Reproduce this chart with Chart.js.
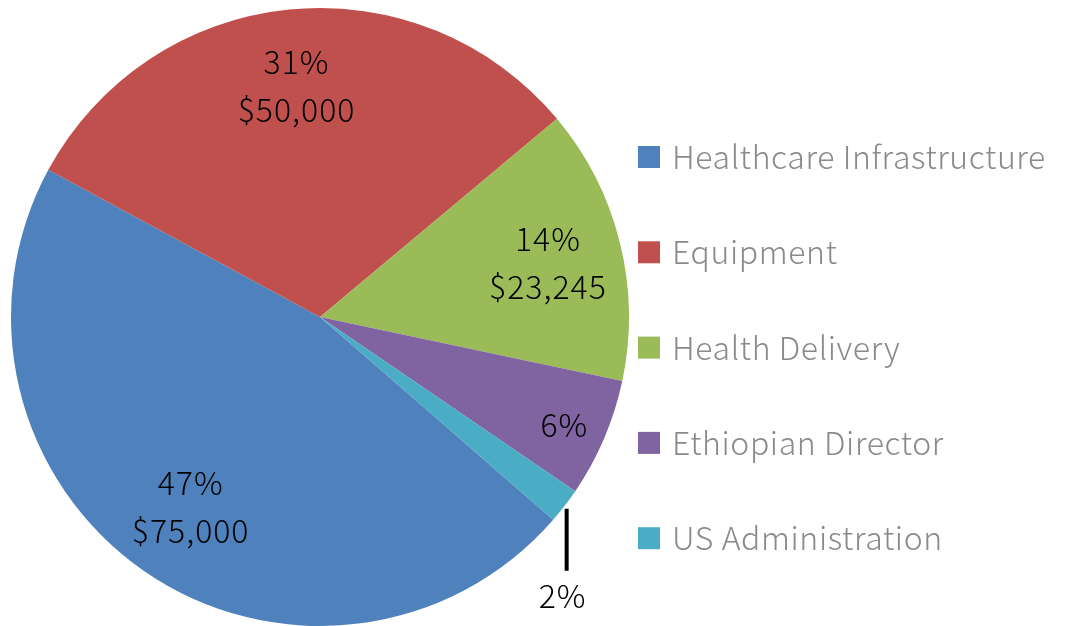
<!DOCTYPE html>
<html>
<head>
<meta charset="utf-8">
<script src="https://cdn.jsdelivr.net/npm/chart.js@4.4.1/dist/chart.umd.min.js"></script>
<style>
  html, body { margin: 0; padding: 0; background: #fff; }
  #wrap { width: 1065px; height: 626px; }
</style>
</head>
<body>
<div id="wrap"><canvas id="budgetChart"></canvas></div>
<script>
const categories = [
    'Healthcare Infrastructure',
    'Equipment',
    'Health Delivery',
    'Ethiopian Director',
    'US Administration',
];
const amounts = [75000, 50000, 23245, 10000, 3000];
const showAmount = [true, true, true, false, false];
const colors = ['#4F81BD', '#C0504D', '#9BBB59', '#8064A2', '#4BACC6'];

// how far out (fraction of radius) each label sits; negative = outside with leader line
const labelRadius = [0.735, 0.76, 0.76, 0.86, -1];

const fontFamily = '"Noto Sans CJK JP", "Segoe UI", sans-serif';
const textFont = '300 32px ' + fontFamily;

const sliceLabels = {
    id: 'sliceLabels',
    afterDatasetsDraw(chart) {
        const ctx = chart.ctx;
        const meta = chart.getDatasetMeta(0);
        const total = amounts.reduce((a, b) => a + b, 0);
        ctx.save();
        ctx.fillStyle = '#000';
        ctx.font = textFont;
        ctx.letterSpacing = '1px';
        ctx.textAlign = 'center';
        ctx.textBaseline = 'middle';
        meta.data.forEach((arc, i) => {
            const p = arc.getProps(['x', 'y', 'startAngle', 'endAngle', 'outerRadius'], true);
            const mid = (p.startAngle + p.endAngle) / 2;
            const pct = Math.round(amounts[i] / total * 100) + '%';
            const f = labelRadius[i];
            if (f < 0) {
                // outside label with a short vertical leader line
                const ex = p.x + Math.cos(mid) * p.outerRadius;
                const ey = p.y + Math.sin(mid) * p.outerRadius;
                ctx.strokeStyle = '#000';
                ctx.lineWidth = 4;
                ctx.beginPath();
                ctx.moveTo(ex + 2, ey + 3);
                ctx.lineTo(ex + 2, ey + 65);
                ctx.stroke();
                ctx.fillText(pct, ex - 2, ey + 90);
                return;
            }
            const lx = p.x + Math.cos(mid) * p.outerRadius * f;
            const ly = p.y + Math.sin(mid) * p.outerRadius * f + 3;
            if (showAmount[i]) {
                ctx.fillText(pct, lx, ly - 24);
                ctx.fillText('$' + amounts[i].toLocaleString('en-US'), lx, ly + 24);
            } else {
                ctx.fillText(pct, lx, ly);
            }
        });
        ctx.restore();
    }
};

// legend drawn by hand so the spacing matches the original
const sideLegend = {
    id: 'sideLegend',
    afterDraw(chart) {
        const ctx = chart.ctx;
        const ds = chart.data.datasets[0];
        const x = chart.chartArea.right + 8;
        ctx.save();
        ctx.font = textFont;
        ctx.letterSpacing = '0.6px';
        ctx.textAlign = 'left';
        ctx.textBaseline = 'middle';
        chart.data.labels.forEach((label, i) => {
            const y = 157 + i * 95.3;
            ctx.fillStyle = ds.backgroundColor[i];
            ctx.fillRect(x, y - 11, 22, 22);
            ctx.fillStyle = '#8A8A8A';
            ctx.fillText(label, x + 34, y);
        });
        ctx.restore();
    }
};

const data = {
    labels: categories,
    datasets: [{
        data: amounts,
        backgroundColor: colors,
        borderWidth: 0,
    }]
};

const config = {
    type: 'pie',
    data: data,
    options: {
        responsive: true,
        maintainAspectRatio: false,
        animation: false,
        rotation: 131,
        layout: {
            padding: { left: 10, right: 435, top: 8, bottom: 0 },
        },
        plugins: {
            legend: { display: false },
            tooltip: { enabled: false },
        },
    },
    plugins: [sliceLabels, sideLegend],
};

const budgetChart = new Chart(
    document.getElementById('budgetChart'),
    config
);
</script>
</body>
</html>
